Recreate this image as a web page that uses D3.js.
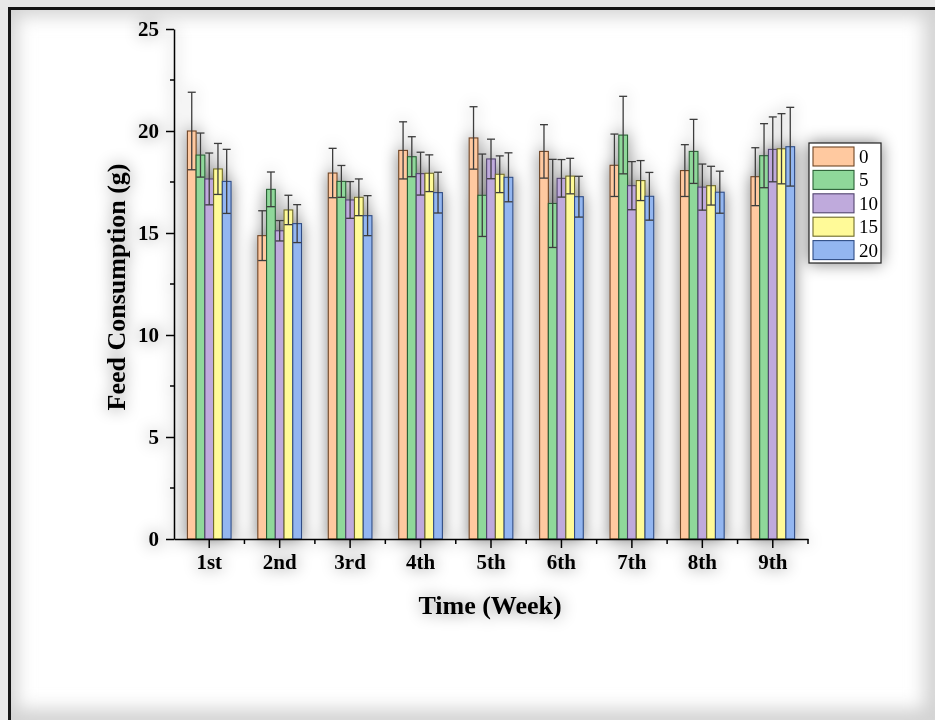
<!DOCTYPE html>
<html>
<head>
<meta charset="utf-8">
<script src="https://cdn.jsdelivr.net/npm/d3@7"></script>
<style>
  html, body { margin: 0; padding: 0; background: #e8e8e8; }
  svg { display: block; }
</style>
</head>
<body>
<svg id="chart" width="935" height="720"></svg>
<script>
// Weekly feed consumption by inclusion level (mean ± SD)
const weeks = ["1st", "2nd", "3rd", "4th", "5th", "6th", "7th", "8th", "9th"];
const levels = ["0", "5", "10", "15", "20"];

const mean0  = [20.00, 14.87, 17.94, 19.05, 19.66, 19.00, 18.32, 18.06, 17.76];
const mean5  = [18.82, 17.14, 17.53, 18.74, 16.85, 16.45, 19.80, 19.00, 18.79];
const mean10 = [17.65, 15.11, 16.62, 17.91, 18.63, 17.68, 17.32, 17.25, 19.10];
const mean15 = [18.14, 16.13, 16.75, 17.93, 17.88, 17.79, 17.57, 17.32, 19.13];
const mean20 = [17.53, 15.46, 15.85, 16.98, 17.73, 16.78, 16.80, 17.00, 19.23];

const sd0  = [1.90, 1.22, 1.21, 1.40, 1.53, 1.31, 1.53, 1.27, 1.42];
const sd5  = [1.08, 0.85, 0.78, 0.98, 2.02, 2.16, 1.90, 1.57, 1.57];
const sd10 = [1.27, 0.50, 0.90, 1.05, 0.97, 0.92, 1.18, 1.13, 1.59];
const sd15 = [1.25, 0.72, 0.90, 0.90, 0.90, 0.87, 0.98, 0.95, 1.72];
const sd20 = [1.57, 0.93, 0.98, 1.00, 1.20, 1.00, 1.17, 1.03, 1.93];

const yTicks = [0, 5, 10, 15, 20, 25];

const means = [mean0, mean5, mean10, mean15, mean20];
const sds = [sd0, sd5, sd10, sd15, sd20];
const fills = ["#ffc9a0", "#8fd89a", "#bfaadc", "#fffa98", "#93b6f0"];
const strokes = ["#6e4526", "#2a6035", "#52446e", "#6e6a2a", "#304d85"];

const rows = [];
weeks.forEach((w, i) => levels.forEach((l, j) => {
  rows.push({ week: w, level: l, j, mean: means[j][i], sd: sds[j][i] });
}));

const svg = d3.select("#chart");
const defs = svg.append("defs");

// soft shadow cast by the plot content
const sh = defs.append("filter").attr("id", "shadow")
  .attr("x", "-20%").attr("y", "-20%").attr("width", "140%").attr("height", "140%");
sh.append("feGaussianBlur").attr("in", "SourceAlpha").attr("stdDeviation", 8).attr("result", "b");
sh.append("feComponentTransfer").attr("in", "b").attr("result", "bs")
  .append("feFuncA").attr("type", "linear").attr("slope", 0.5);
const m = sh.append("feMerge");
m.append("feMergeNode").attr("in", "bs");
m.append("feMergeNode").attr("in", "SourceGraphic");

// inner shading of the frame
const ib = defs.append("filter").attr("id", "innerBlur")
  .attr("x", "-10%").attr("y", "-10%").attr("width", "120%").attr("height", "120%");
ib.append("feGaussianBlur").attr("stdDeviation", 9);
defs.append("clipPath").attr("id", "frameClip")
  .append("rect").attr("x", 10).attr("y", 9).attr("width", 935).attr("height", 720);

// frame
svg.append("rect").attr("x", 10).attr("y", 9).attr("width", 935).attr("height", 720).attr("fill", "#ffffff");
svg.append("g").attr("clip-path", "url(#frameClip)")
  .append("rect").attr("x", 4).attr("y", 3).attr("width", 933).attr("height", 719)
  .attr("fill", "none").attr("stroke", "#d2d2d2").attr("stroke-width", 26)
  .attr("filter", "url(#innerBlur)");
svg.append("rect").attr("x", 9.5).attr("y", 8.5).attr("width", 940).attr("height", 730)
  .attr("fill", "none").attr("stroke", "#161616").attr("stroke-width", 3);

const plot = { left: 174, right: 808, top: 29, bottom: 539 };

const x = d3.scaleBand().domain(weeks).range([plot.left, plot.right])
  .paddingInner(0.38).paddingOuter(0.19);
const xs = d3.scaleBand().domain(levels).range([0, x.bandwidth()]).padding(0);
const y = d3.scaleLinear().domain([0, 25]).range([plot.bottom, plot.top]);

const g = svg.append("g").attr("filter", "url(#shadow)");

// bars
g.append("g").selectAll("rect").data(rows).join("rect")
  .attr("x", d => x(d.week) + xs(d.level))
  .attr("y", d => y(d.mean))
  .attr("width", xs.bandwidth())
  .attr("height", d => y(0) - y(d.mean))
  .attr("fill", d => fills[d.j])
  .attr("stroke", d => strokes[d.j])
  .attr("stroke-width", 1.1);

// error bars
const eb = g.append("g").attr("stroke", "#3c3c3c").attr("stroke-width", 1.3).attr("fill", "none");
const cap = 4;
rows.forEach(d => {
  const cx = x(d.week) + xs(d.level) + xs.bandwidth() / 2;
  const y1 = y(d.mean + d.sd), y2 = y(d.mean - d.sd);
  eb.append("line").attr("x1", cx).attr("x2", cx).attr("y1", y1).attr("y2", y2);
  eb.append("line").attr("x1", cx - cap).attr("x2", cx + cap).attr("y1", y1).attr("y2", y1);
  eb.append("line").attr("x1", cx - cap).attr("x2", cx + cap).attr("y1", y2).attr("y2", y2);
});

const font = "'Liberation Serif', 'Times New Roman', serif";

// y axis
const yAxis = g.append("g").attr("transform", `translate(${plot.left},0)`)
  .call(d3.axisLeft(y).tickValues(yTicks).tickSize(8).tickSizeOuter(0).tickPadding(7));
yAxis.select(".domain").attr("stroke", "#000").attr("stroke-width", 1.5);
yAxis.selectAll(".tick line").attr("stroke", "#000").attr("stroke-width", 1.5);
yAxis.selectAll(".tick text").attr("font-family", font).attr("font-weight", "bold")
  .attr("font-size", 21).attr("fill", "#000");
yAxis.selectAll(".minor").data(d3.range(2.5, 25, 5)).join("line")
  .attr("x1", -4).attr("x2", 0).attr("y1", d => y(d)).attr("y2", d => y(d))
  .attr("stroke", "#000").attr("stroke-width", 1.5);

// x axis
const xAxis = g.append("g").attr("transform", `translate(0,${plot.bottom})`)
  .call(d3.axisBottom(x).tickSize(9).tickSizeOuter(0).tickPadding(6));
xAxis.select(".domain").attr("stroke", "#000").attr("stroke-width", 1.5);
xAxis.selectAll(".tick line").attr("stroke", "#000").attr("stroke-width", 1.5);
xAxis.selectAll(".tick text").attr("font-family", font).attr("font-weight", "bold")
  .attr("font-size", 21).attr("fill", "#000");
const step = x.step();
xAxis.selectAll(".minor").data(d3.range(1, weeks.length + 1)).join("line")
  .attr("x1", k => plot.left + k * step).attr("x2", k => plot.left + k * step)
  .attr("y1", 0).attr("y2", 5)
  .attr("stroke", "#000").attr("stroke-width", 1.5);

// axis titles
g.append("text").attr("transform", `translate(125,287) rotate(-90)`)
  .attr("text-anchor", "middle").attr("font-family", font).attr("font-weight", "bold")
  .attr("font-size", 26).text("Feed Consumption (g)");
g.append("text").attr("x", 490).attr("y", 614)
  .attr("text-anchor", "middle").attr("font-family", font).attr("font-weight", "bold")
  .attr("font-size", 26).text("Time (Week)");

// legend
const lg = g.append("g").attr("transform", "translate(809,143)");
lg.append("rect").attr("x", 0).attr("y", 0).attr("width", 72).attr("height", 120)
  .attr("fill", "#fff").attr("stroke", "#222").attr("stroke-width", 1.2);
levels.forEach((l, j) => {
  const row = lg.append("g").attr("transform", `translate(4,${4 + j * 23.4})`);
  row.append("rect").attr("width", 41).attr("height", 19)
    .attr("fill", fills[j]).attr("stroke", strokes[j]).attr("stroke-width", 1.1);
  row.append("text").attr("x", 46).attr("y", 16).attr("font-family", font)
    .attr("font-size", 19).text(l);
});
</script>
</body>
</html>
